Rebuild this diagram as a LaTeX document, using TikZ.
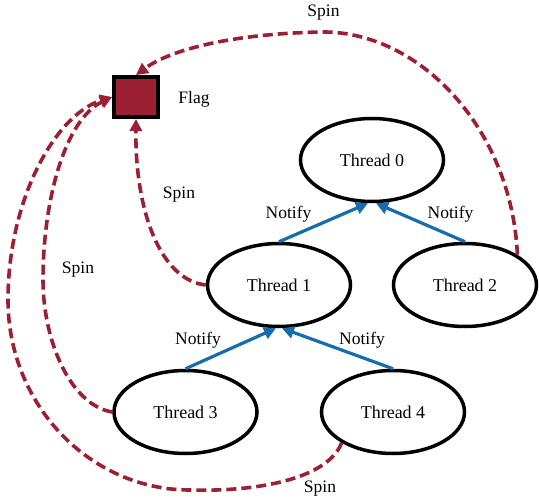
\documentclass[tikz,border=0pt]{standalone}
\usepackage{fontspec}
\setmainfont{Liberation Serif}
\usetikzlibrary{shapes.geometric,arrows.meta}
\definecolor{spinred}{RGB}{155,32,52}
\definecolor{notifyblue}{RGB}{22,108,172}
\begin{document}
\begin{tikzpicture}[x=1pt,y=-1pt,
  thread/.style={ellipse,draw=black,line width=3.5pt,minimum width=143pt,minimum height=83pt,inner sep=0pt,font=\fontsize{18}{20}\selectfont},
  lbl/.style={font=\fontsize{17.5}{20}\selectfont,inner sep=0pt},
  notify/.style={draw=notifyblue,line width=3.2pt,-{Triangle[length=12pt,width=12pt]}},
  spin/.style={draw=spinred,line width=3.6pt,dash pattern=on 10pt off 5pt,-{Triangle[length=12pt,width=12pt]}},
  flagbox/.style={draw=black,fill=spinred,line width=4pt,minimum width=44pt,minimum height=40pt,inner sep=0pt}]
\useasboundingbox (0,0) rectangle (539,500);

\node[flagbox] (flag) at (136,97) {};
\node[lbl] (flaglbl) at (194,99) {Flag};

\node[thread] (t0) at (372,160) {Thread 0};
\node[thread] (t1) at (279,285) {Thread 1};
\node[thread] (t2) at (465,285) {Thread 2};
\node[thread] (t3) at (185.5,412) {Thread 3};
\node[thread] (t4) at (393,412) {Thread 4};

\draw[notify] (t1.north) -- ([xshift=-4pt]t0.south);
\draw[notify] (t2.north) -- ([xshift=4pt]t0.south);
\draw[notify] (t3.north) -- ([xshift=-3pt]t1.south);
\draw[notify] (t4.north) -- ([xshift=3pt]t1.south);

\node[lbl] (n1) at (288.5,214) {Notify};
\node[lbl] (n2) at (450.5,214) {Notify};
\node[lbl] (n3) at (198,340) {Notify};
\node[lbl] (n4) at (362,340) {Notify};

\draw[spin] (t1.west) .. controls (160,280) and (135,210) .. (flag.south);
\draw[spin] (t2.30) .. controls (512,130) and (420,30) .. (320,32) .. controls (230,34) and (170,50) .. (flag.north);
\draw[spin] (t3.west) .. controls (70,405) and (43,340) .. (43,280) .. controls (43,200) and (65,120) .. (flag.west);
\draw[spin] (t4.211) .. controls (328,478) and (260,492) .. (190,490) .. controls (90,490) and (8,405) .. (8,300) .. controls (8,200) and (55,115) .. (flag.west);

\node[lbl] (s1) at (323.5,13) {Spin};
\node[lbl] (s2) at (179,195) {Spin};
\node[lbl] (s3) at (78,270) {Spin};
\node[lbl] (s4) at (320,489) {Spin};
\end{tikzpicture}
\end{document}
